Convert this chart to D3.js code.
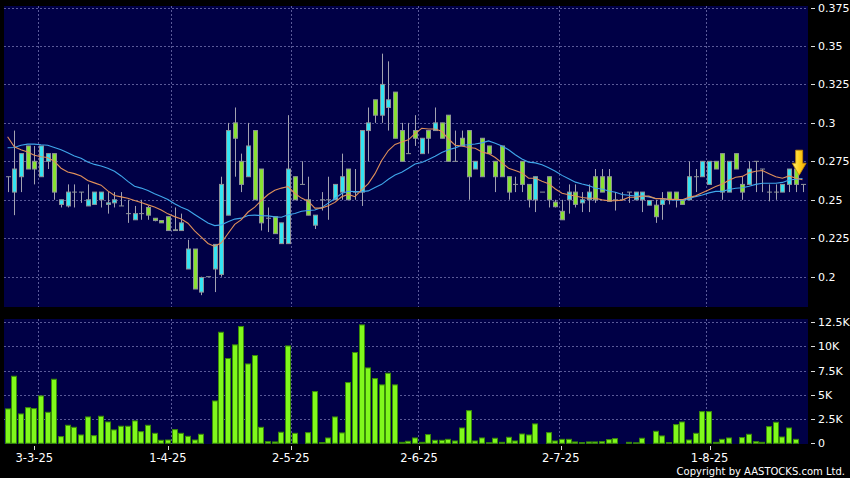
<!DOCTYPE html>
<html><head><meta charset="utf-8">
<script src="https://cdn.jsdelivr.net/npm/d3@7/dist/d3.min.js"></script>
<style>html,body{margin:0;padding:0;background:#000;}svg{display:block;}</style>
</head><body>
<svg id="c" width="850" height="478"></svg>
<script>
// ---- data ----
const openP = [0.265,0.255,0.265,0.285,0.275,0.265,0.275,0.28,0.247,0.246,0.255,0.255,0.246,0.247,0.25,0.247,0.248,0.246,0.241,0.237,
0.241,0.245,0.238,0.2365,0.239,0.2305,0.23,0.205,0.218,0.19,0.2,0.205,0.2015,0.24,0.3,0.275,0.265,0.295,0.27,0.238,
0.239,0.2215,0.2215,0.265,0.26,0.25,0.2335,0.25,0.25,0.25,0.255,0.27,0.255,0.255,0.295,0.315,0.305,0.31,0.32,0.295,
0.28,0.295,0.28,0.295,0.295,0.3,0.305,0.275,0.29,0.295,0.27,0.29,0.285,0.275,0.285,0.265,0.26,0.275,0.26,0.25,
0.255,0.265,0.2485,0.2425,0.25,0.255,0.248,0.25,0.265,0.265,0.265,0.25,0.25,0.255,0.25,0.25,0.2465,0.2465,0.247,0.255,
0.255,0.25,0.25,0.265,0.265,0.26,0.275,0.28,0.255,0.28,0.26,0.26,0.275,0.27,0.255,0.255,0.255,0.26,0.27,0.26];
const highP = [0.265,0.295,0.28,0.285,0.285,0.285,0.28,0.28,0.25,0.26,0.26,0.255,0.26,0.255,0.255,0.255,0.255,0.255,0.25,0.246,
0.25,0.246,0.238,0.2365,0.239,0.245,0.241,0.224,0.218,0.2,0.2,0.221,0.265,0.3,0.31,0.28,0.3,0.295,0.27,0.245,
0.239,0.235,0.305,0.265,0.275,0.265,0.24,0.255,0.265,0.26,0.28,0.27,0.27,0.295,0.31,0.315,0.345,0.34,0.32,0.3,
0.3,0.305,0.29,0.295,0.31,0.3,0.305,0.295,0.295,0.295,0.275,0.29,0.285,0.275,0.285,0.265,0.265,0.275,0.26,0.265,
0.255,0.265,0.25,0.25,0.26,0.26,0.255,0.26,0.27,0.27,0.27,0.255,0.255,0.255,0.255,0.255,0.2495,0.25,0.255,0.255,
0.255,0.25,0.275,0.27,0.275,0.275,0.275,0.28,0.275,0.28,0.265,0.275,0.275,0.27,0.26,0.26,0.26,0.27,0.27,0.26];
const lowP = [0.255,0.24,0.255,0.27,0.26,0.265,0.27,0.25,0.245,0.245,0.245,0.248,0.246,0.247,0.245,0.241,0.245,0.246,0.235,0.237,
0.237,0.237,0.236,0.235,0.23,0.23,0.23,0.205,0.192,0.188,0.2,0.19,0.2,0.24,0.265,0.255,0.265,0.25,0.23,0.229,
0.228,0.2215,0.2215,0.25,0.26,0.24,0.231,0.243,0.237,0.25,0.25,0.25,0.25,0.246,0.275,0.3,0.3,0.295,0.29,0.275,
0.28,0.285,0.28,0.28,0.295,0.29,0.275,0.275,0.285,0.25,0.27,0.265,0.28,0.255,0.265,0.25,0.255,0.255,0.245,0.242,
0.255,0.245,0.245,0.237,0.241,0.245,0.242,0.242,0.248,0.255,0.249,0.243,0.25,0.248,0.25,0.242,0.2465,0.235,0.237,0.247,
0.245,0.247,0.25,0.255,0.265,0.26,0.27,0.25,0.255,0.27,0.25,0.26,0.255,0.255,0.249,0.25,0.255,0.255,0.255,0.255];
const closeP = [0.265,0.27,0.28,0.27,0.27,0.285,0.28,0.255,0.25,0.255,0.255,0.255,0.25,0.255,0.255,0.248,0.25,0.246,0.241,0.241,
0.241,0.24,0.2365,0.235,0.23,0.23,0.235,0.218,0.192,0.1995,0.2,0.221,0.26,0.295,0.29,0.26,0.285,0.25,0.235,0.238,
0.228,0.235,0.27,0.25,0.26,0.24,0.24,0.25,0.25,0.26,0.265,0.25,0.255,0.295,0.3,0.305,0.325,0.315,0.29,0.275,
0.28,0.29,0.29,0.29,0.3,0.29,0.275,0.275,0.285,0.265,0.275,0.265,0.28,0.265,0.265,0.255,0.26,0.26,0.25,0.265,
0.255,0.25,0.2455,0.237,0.255,0.247,0.25,0.255,0.25,0.255,0.249,0.25,0.25,0.255,0.255,0.255,0.2495,0.239,0.25,0.25,
0.25,0.247,0.265,0.265,0.275,0.275,0.27,0.255,0.275,0.27,0.255,0.27,0.275,0.27,0.255,0.255,0.26,0.27,0.26,0.26];
const volume = [3550,6920,3030,3680,3580,4890,3200,6610,690,1860,1650,860,2720,790,2790,2200,1380,1760,1760,2310,
1200,1860,1030,310,340,1410,1030,720,340,930,0,4370,11460,8750,10160,12050,8190,9060,1650,170,
140,1140,10050,1030,0,1100,5340,70,550,2720,1070,6270,9370,12220,7780,6680,6030,7230,6030,100,
210,550,100,900,310,310,410,240,1580,3370,240,550,60,520,100,620,240,960,860,2000,
0,1100,240,410,410,140,70,140,140,170,380,480,0,100,50,520,0,1240,760,70,
1930,2200,340,1030,3270,3270,100,410,550,0,590,930,170,100,1720,2170,650,1580,410,0];
// moving averages for the first bars (window not yet full)
const ma10Head = [0.291,0.2845,0.2825,0.281,0.279,0.278,0.2775,0.275,0.2705];
const ma20Head = [0.2838,0.284,0.2855,0.2862,0.2862,0.2858,0.2855,0.284,0.2825,0.2805,0.2785,0.277,0.2745,0.273,0.272,0.2705,0.2685,0.2655,0.262];
const dateLabels = ["3-3-25","1-4-25","2-5-25","2-6-25","2-7-25","1-8-25"];
const labelIdx = [4,24,42.4,61.6,82.8,105.1];
const gridIdx = [4.5,24.5,42.5,61.5,82.5,104.5];
const priceTicks = [0.2,0.225,0.25,0.275,0.3,0.325,0.35,0.375];
const volTicks = [0,2500,5000,7500,10000,12500];
const volTickLabels = ["0","2.5K","5K","7.5K","10K","12.5K"];
const markerIdx = 118.5, markerPrice = 0.266;

// ---- layout ----
const W = 850, H = 478;
const plotL = 4, plotR = 808;
const pTop = 6, pBot = 307;
const vTop = 319, vBot = 444;
const n = closeP.length;

const svg = d3.select("#c");
svg.append("rect").attr("width",W).attr("height",H).attr("fill","#000");

const x = d3.scaleLinear().domain([-0.5, n - 0.5]).range([4.26, 805.84]);
const yP = d3.scaleLinear().domain([0.2, 0.375]).range([276.7, 7.5]);
const yV = d3.scaleLinear().domain([0, 12500]).range([443.3, 322.2]);

const defs = svg.append("defs");
defs.append("clipPath").attr("id","cp").append("rect")
  .attr("x",plotL).attr("y",pTop).attr("width",plotR-plotL).attr("height",pBot-pTop);
defs.append("clipPath").attr("id","cv").append("rect")
  .attr("x",plotL).attr("y",vTop).attr("width",plotR-plotL).attr("height",vBot-vTop);
const grad = defs.append("linearGradient").attr("id","ag").attr("x1","0").attr("x2","1").attr("y1","0").attr("y2","0");
grad.append("stop").attr("offset","0").attr("stop-color","#fff27a");
grad.append("stop").attr("offset","0.5").attr("stop-color","#ffd21e");
grad.append("stop").attr("offset","1").attr("stop-color","#f0a400");

// panels
const panelFill = "#000046";
svg.append("rect").attr("x",plotL).attr("y",pTop).attr("width",plotR-plotL).attr("height",pBot-pTop).attr("fill",panelFill);
svg.append("rect").attr("x",plotL).attr("y",vTop).attr("width",plotR-plotL).attr("height",vBot-vTop).attr("fill",panelFill);

const gridColor = "#5a5a98";
const px = v => Math.round(v) + 0.5;

// grids
const gP = svg.append("g").attr("clip-path","url(#cp)");
gP.selectAll("line.hg").data(priceTicks).join("line")
  .attr("x1",plotL).attr("x2",plotR).attr("y1",d=>px(yP(d))).attr("y2",d=>px(yP(d)))
  .attr("stroke",gridColor).attr("stroke-dasharray","2,2");
gP.selectAll("line.vg").data(gridIdx).join("line")
  .attr("x1",d=>px(x(d))).attr("x2",d=>px(x(d))).attr("y1",pTop).attr("y2",pBot)
  .attr("stroke",gridColor).attr("stroke-dasharray","2,2");

const gV = svg.append("g").attr("clip-path","url(#cv)");
gV.selectAll("line.hg").data(volTicks.filter(d=>d>0)).join("line")
  .attr("x1",plotL).attr("x2",plotR).attr("y1",d=>px(yV(d))).attr("y2",d=>px(yV(d)))
  .attr("stroke",gridColor).attr("stroke-dasharray","2,2");
gV.selectAll("line.vg").data(gridIdx).join("line")
  .attr("x1",d=>px(x(d))).attr("x2",d=>px(x(d))).attr("y1",vTop).attr("y2",vBot)
  .attr("stroke",gridColor).attr("stroke-dasharray","2,2");

// candles
const cData = d3.range(n).map(i => ({i, o:openP[i], h:highP[i], l:lowP[i], c:closeP[i]}));
const cg = gP.append("g");
cg.selectAll("line.w").data(cData).join("line")
  .attr("x1",d=>px(x(d.i))).attr("x2",d=>px(x(d.i)))
  .attr("y1",d=>yP(d.h)).attr("y2",d=>yP(d.l))
  .attr("stroke","#a2a2b0").attr("stroke-width",1);
cg.selectAll("rect.b").data(cData).join("rect")
  .attr("x",d=>Math.round(x(d.i)) - 1.5).attr("width",4)
  .attr("y",d=>yP(Math.max(d.o,d.c)))
  .attr("height",d=>Math.max(0.01, Math.abs(yP(d.o)-yP(d.c))))
  .attr("fill",d=>d.c>d.o ? "#34e4f2" : (d.c<d.o ? "#88e232" : "#a2a2b0"))
  .attr("stroke","#8f9498").attr("stroke-width",1);

// moving averages
const ma = (k, head) => closeP.map((c,i) => i < k-1 ? head[i] : d3.mean(closeP.slice(i-k+1, i+1)));
const ma10 = ma(10, ma10Head), ma20 = ma(20, ma20Head);
const line = d3.line().x((d,i)=>x(i)).y(d=>yP(d));
gP.append("path").datum(ma20).attr("d",line).attr("fill","none").attr("stroke","#3fa6ea").attr("stroke-width",1.1);
gP.append("path").datum(ma10).attr("d",line).attr("fill","none").attr("stroke","#e0905a").attr("stroke-width",1.1);

// marker arrow
const ax = x(markerIdx), ay = yP(markerPrice);
svg.append("path")
  .attr("d",`M${ax-3.5},${ay-25} L${ax+3.5},${ay-25} L${ax+3.5},${ay-12} L${ax+7},${ay-12} L${ax},${ay} L${ax-7},${ay-12} L${ax-3.5},${ay-12} Z`)
  .attr("fill","url(#ag)").attr("stroke","#c88a00").attr("stroke-width",0.8);

// volume bars
gV.selectAll("rect.v").data(volume.map((v,i)=>({v,i})).filter(d=>d.v>0)).join("rect")
  .attr("x",d=>Math.round(x(d.i)) - 2.5).attr("width",5)
  .attr("y",d=>yV(d.v)).attr("height",d=>yV(0)-yV(d.v))
  .attr("fill","#80f81c").attr("stroke","#3a8c08").attr("stroke-width",1);

// right axis labels
const font = "DejaVu Sans, Verdana, sans-serif";
const ra = svg.append("g");
ra.selectAll("line.pt").data(priceTicks).join("line")
  .attr("x1",811).attr("x2",815).attr("y1",d=>px(yP(d))).attr("y2",d=>px(yP(d))).attr("stroke","#ddd");
ra.selectAll("text.pt").data(priceTicks).join("text")
  .attr("x",818).attr("y",d=>yP(d)+4).text(d=>d3.format("")(+d.toFixed(3)))
  .attr("fill","#fff").attr("font-family",font).attr("font-size",11);
ra.selectAll("line.vt").data(volTicks).join("line")
  .attr("x1",811).attr("x2",815).attr("y1",d=>px(yV(d))).attr("y2",d=>px(yV(d))).attr("stroke","#ddd");
ra.selectAll("text.vt").data(volTicks).join("text")
  .attr("x",818).attr("y",d=>yV(d)+4).text((d,i)=>volTickLabels[i])
  .attr("fill","#fff").attr("font-family",font).attr("font-size",11);

// bottom date labels
const ba = svg.append("g");
ba.selectAll("line").data(labelIdx).join("line")
  .attr("x1",d=>px(x(d))).attr("x2",d=>px(x(d))).attr("y1",446).attr("y2",450).attr("stroke","#ddd");
ba.selectAll("text").data(labelIdx).join("text")
  .attr("x",d=>x(d)).attr("y",461.5).attr("text-anchor","middle").text((d,i)=>dateLabels[i])
  .attr("fill","#fff").attr("font-family",font).attr("font-size",11.5);

svg.append("text").attr("x",845).attr("y",474.5).attr("text-anchor","end")
  .text("Copyright by AASTOCKS.com Ltd.").attr("fill","#fff").attr("font-family",font).attr("font-size",10);
</script>
</body></html>
